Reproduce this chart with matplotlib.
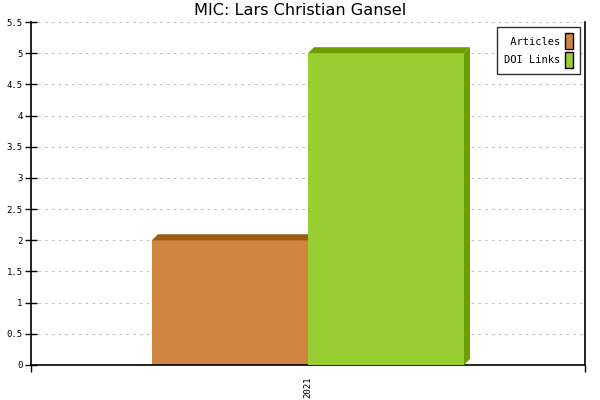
import matplotlib
matplotlib.use("Agg")
import matplotlib.pyplot as plt
from matplotlib.patches import Polygon, Rectangle
from matplotlib.ticker import MultipleLocator, FuncFormatter

title = "MIC: Lars Christian Gansel"
categories = ["2021"]
series_names = ["Articles", "DOI Links"]
series_values = [[2], [5]]
front_colors = ["#CD853F", "#9ACD32"]
shade_colors = ["#9C5A13", "#6B9E00"]

fig = plt.figure(figsize=(6, 4), dpi=100)
ax = fig.add_axes([31/600, 35/400, 554/600, 343/400])
ax.set_xlim(0, len(categories))
ax.set_ylim(0, 5.5)

bw = 0.2816
n = len(series_names)
# depth in data units (6 px)
ddx = 6 / 554 * len(categories)
ddy = 6 / 343 * 5.5

for ci, cat in enumerate(categories):
    center = ci + 0.5
    for si in range(n):
        v = series_values[si][ci]
        x0 = center - bw * n / 2 + si * bw
        x1 = x0 + bw
        z = 2 + si
        ax.add_patch(Rectangle((x0, 0), bw, v, facecolor=front_colors[si], edgecolor="none", zorder=z))
        ax.add_patch(Polygon([(x0, v), (x0 + ddx, v + ddy), (x1 + ddx, v + ddy), (x1, v)],
                             closed=True, facecolor=shade_colors[si], edgecolor="none", zorder=z))
        ax.add_patch(Polygon([(x1, 0), (x1 + ddx, ddy), (x1 + ddx, v + ddy), (x1, v)],
                             closed=True, facecolor=shade_colors[si], edgecolor="none", zorder=z))

ax.yaxis.set_major_locator(MultipleLocator(0.5))
ax.yaxis.set_major_formatter(FuncFormatter(lambda y, p: "%g" % y))
ax.grid(axis="y", color="#c0c0c0", linestyle=(0, (2.5, 4)), linewidth=0.75)
ax.set_axisbelow(True)

ax.set_xticks([ci for ci in range(len(categories) + 1)], minor=False)
ax.set_xticklabels([""] * (len(categories) + 1))
ax.set_xticks([ci + 0.5 for ci in range(len(categories))], minor=True)
ax.set_xticklabels(categories, minor=True, rotation=90, fontsize=6.5, family="DejaVu Sans Mono")
ax.tick_params(axis="x", which="major", direction="out", length=5, width=1)
ax.tick_params(axis="x", which="minor", length=0, pad=8)
ax.tick_params(axis="y", direction="inout", length=8, width=1, labelsize=6.5, pad=2)
for lab in ax.get_yticklabels():
    lab.set_family("DejaVu Sans Mono")

ax.spines["top"].set_visible(False)
for s in ["left", "bottom", "right"]:
    ax.spines[s].set_linewidth(1.2)
    ax.spines[s].set_color("black")

fig.suptitle(title, fontsize=11.6, y=0.993, va="top", family="DejaVu Sans")

handles = [Rectangle((0, 0), 1, 1, facecolor=front_colors[i], edgecolor="black", linewidth=1) for i in range(n)]
labels = [s.rjust(max(len(t) for t in series_names)) for s in series_names]
leg = ax.legend(handles, labels, loc="upper right", bbox_to_anchor=(0.9905, 0.985), markerfirst=False,
                prop={"family": "DejaVu Sans Mono", "size": 7.5}, frameon=True, fancybox=False,
                edgecolor="black", handlelength=0.8, handleheight=2.0, handletextpad=0.5,
                borderpad=0.6, labelspacing=0.25, borderaxespad=0)
leg.get_frame().set_linewidth(1)

fig.savefig("out.png", dpi=100)
